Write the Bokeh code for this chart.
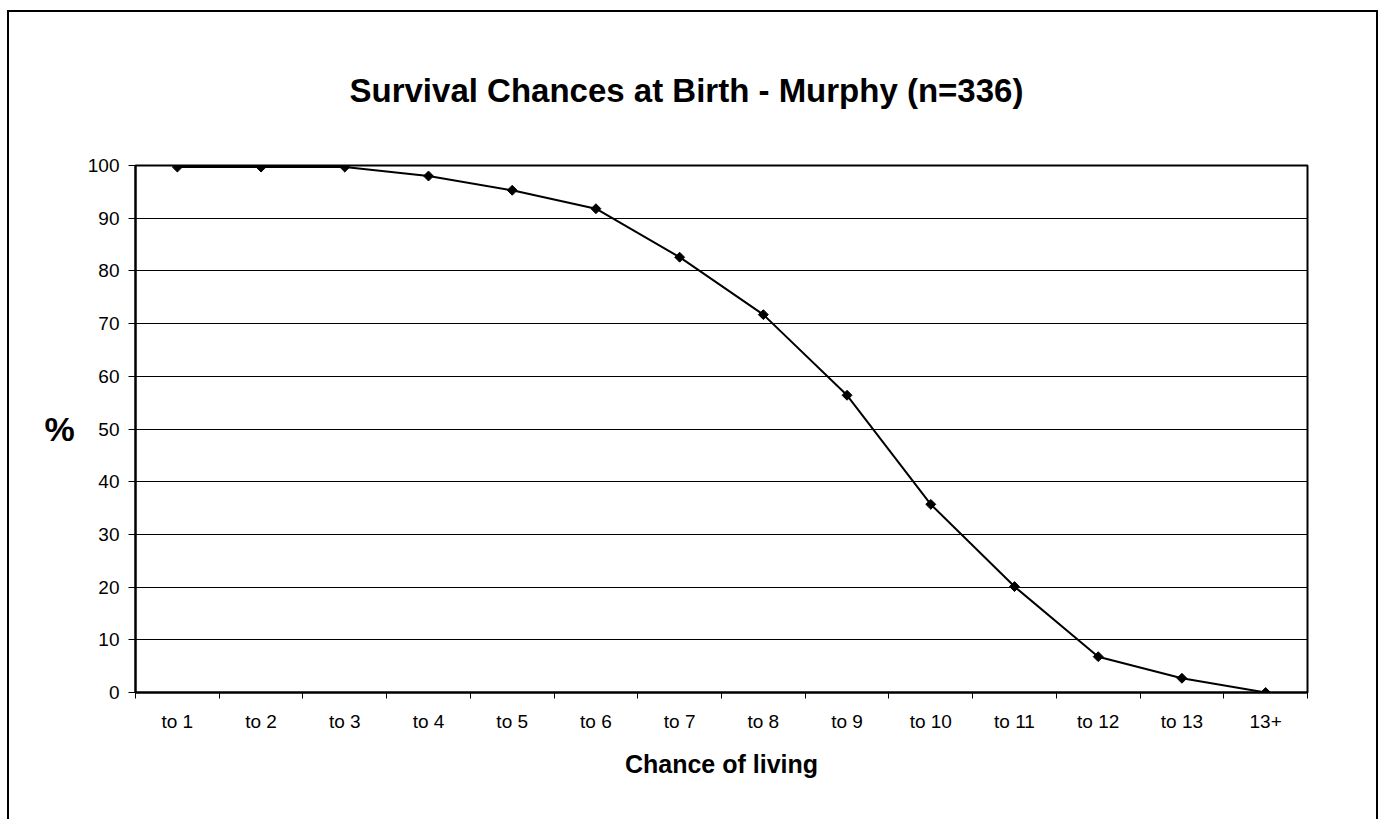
import math
from bokeh.plotting import figure
from bokeh.models import FixedTicker, LinearAxis, Range1d, ColumnDataSource
from bokeh.embed import file_html
from bokeh.resources import INLINE

categories = ["to 1", "to 2", "to 3", "to 4", "to 5", "to 6", "to 7",
              "to 8", "to 9", "to 10", "to 11", "to 12", "to 13", "13+"]
survival_pct = [99.7, 99.7, 99.7, 98.0, 95.3, 91.8, 82.6,
                71.7, 56.4, 35.7, 20.1, 6.8, 2.7, 0.0]
y_ticks = [0, 10, 20, 30, 40, 50, 60, 70, 80, 90, 100]

positions = list(range(1, len(categories) + 1))
boundaries = [i + 0.5 for i in range(len(categories) + 1)]
src = ColumnDataSource(dict(x=positions, y=survival_pct, cat=categories))

FONT = "Liberation Sans"

p = figure(width=1371, height=809, output_backend="svg", toolbar_location=None,
           x_range=Range1d(0.5, len(categories) + 0.5), y_range=Range1d(0, 100),
           min_border_left=126, min_border_right=73, min_border_top=153,
           min_border_bottom=129, x_axis_type=None)
p.styles = {"margin-left": "7px", "margin-top": "10px",
            "border-left": "2px solid black", "border-top": "2px solid black",
            "border-right": "2px solid black", "box-sizing": "border-box"}
p.background_fill_color = "white"
p.border_fill_color = "white"
p.outline_line_color = "black"
p.outline_line_width = 2

p.title.text = "Survival Chances at Birth - Murphy (n=336)"
p.title.text_font = FONT
p.title.text_font_size = "33px"
p.title.text_font_style = "bold"
p.title.text_color = "black"
p.title.align = "left"
p.title.standoff = 114
p.title.offset = 214

# y axis
ya = p.yaxis[0]
ya.ticker = FixedTicker(ticks=y_ticks)
ya.axis_line_color = "black"
ya.axis_line_width = 2
ya.major_tick_out = 7
ya.major_tick_in = 0
ya.major_tick_line_color = "black"
ya.minor_tick_line_color = None
ya.major_label_text_font = FONT
ya.major_label_text_font_size = "19px"
ya.major_label_text_color = "black"
ya.major_label_standoff = 9
ya.axis_label = "%"
ya.axis_label_text_font = FONT
ya.axis_label_text_font_size = "34px"
ya.axis_label_text_font_style = "bold"
ya.axis_label_text_color = "black"
ya.axis_label_orientation = "horizontal"
ya.axis_label_standoff = 10

# x axis with ticks at category boundaries (no labels)
xt = LinearAxis(ticker=FixedTicker(ticks=boundaries),
                major_label_overrides={b: "" for b in boundaries})
xt.axis_line_color = "black"
xt.axis_line_width = 2
xt.major_tick_out = 6
xt.major_tick_in = 0
xt.major_tick_line_color = "black"
xt.minor_tick_line_color = None
xt.major_label_standoff = 0
p.add_layout(xt, "below")

# x axis with category labels at centres
xl = LinearAxis(ticker=FixedTicker(ticks=positions),
                major_label_overrides={i: c for i, c in zip(positions, categories)})
xl.axis_line_color = None
xl.major_tick_line_color = None
xl.minor_tick_line_color = None
xl.major_label_text_font = FONT
xl.major_label_text_font_size = "19px"
xl.major_label_text_color = "black"
xl.major_label_standoff = 6
xl.axis_label = "Chance of living"
xl.axis_label_text_font = FONT
xl.axis_label_text_font_size = "25px"
xl.axis_label_text_font_style = "bold"
xl.axis_label_text_color = "black"
xl.axis_label_standoff = 15
p.add_layout(xl, "below")

p.xgrid.grid_line_color = None
p.ygrid.ticker = FixedTicker(ticks=y_ticks)
p.ygrid.grid_line_color = "black"
p.ygrid.grid_line_width = 1

p.line("x", "y", source=src, line_color="black", line_width=2)
p.scatter("x", "y", source=src, marker="square", angle=math.pi / 4, size=7,
          fill_color="black", line_color="black")

open("out.html", "w").write(file_html(p, INLINE))
